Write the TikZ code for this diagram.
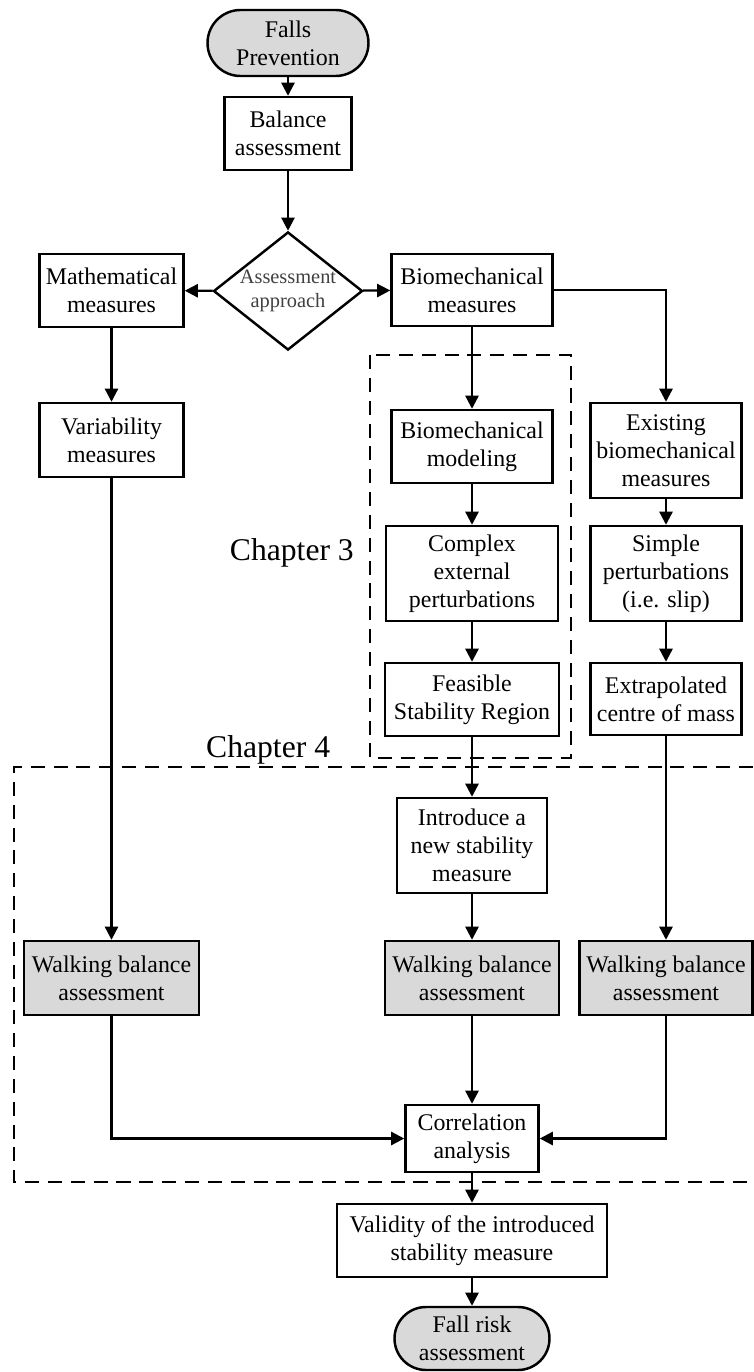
\documentclass[tikz,border=0pt]{standalone}
\usepackage{fontspec}
\setmainfont{Liberation Serif}
\usepackage{tikz}
\usetikzlibrary{arrows.meta, shapes.geometric}
\definecolor{boxgray}{RGB}{217,217,217}
\tikzset{box/.style={draw, line width=1.4pt, align=center, inner sep=1pt, font=\fontsize{13.6}{15.8}\selectfont}}
\tikzset{shaded/.style={box, fill=boxgray}}
\tikzset{terminal/.style={box, fill=boxgray, rounded corners=#1}}
\tikzset{terminal/.default=0.63cm}
\tikzset{decision/.style={draw, line width=1.4pt, diamond, shape aspect=1.26, inner sep=0pt, align=center, text=black!75, font=\fontsize{11.6}{13.6}\selectfont}}
\tikzset{flow/.style={line width=1.3pt, -{Triangle[width=7.5pt, length=7.5pt]}}}
\tikzset{chapter/.style={line width=1.3pt, dash pattern=on 8pt off 5pt}}
\tikzset{chaptertext/.style={font=\fontsize{18}{20}\selectfont}}

\begin{document}
\begin{tikzpicture}
            \useasboundingbox (0, 0) rectangle (15.06, -27.44);
            \node[terminal=0.66cm, minimum width=3.22cm, minimum height=1.32cm] (prevent) at (5.76, -0.86) {Falls\\Prevention};
            \node[box, minimum width=2.54cm, minimum height=1.46cm] (balance) at (5.76, -2.67) {Balance\\assessment};
            \node[decision, minimum width=2.98cm, minimum height=2.36cm] (approach) at (5.76, -5.82) {Assessment\\approach};
            \node[box, minimum width=2.88cm, minimum height=1.46cm] (math) at (2.23, -5.81) {Mathematical\\measures};
            \node[box, minimum width=3.22cm, minimum height=1.44cm] (biomech) at (9.44, -5.80) {Biomechanical\\measures};
            \node[box, minimum width=2.88cm, minimum height=1.48cm] (variab) at (2.23, -8.80) {Variability\\measures};
            \node[box, minimum width=3.22cm, minimum height=1.46cm] (model) at (9.44, -8.93) {Biomechanical\\modeling};
            \node[box, minimum width=3.02cm, minimum height=1.90cm] (existing) at (13.32, -9.01) {Existing\\biomechanical\\measures};
            \node[box, minimum width=3.44cm, minimum height=1.90cm] (complex) at (9.44, -11.47) {Complex\\external\\perturbations};
            \node[box, minimum width=3.02cm, minimum height=1.90cm] (simple) at (13.32, -11.47) {Simple\\perturbations\\(i.e. slip)};
            \node[box, minimum width=3.48cm, minimum height=1.46cm] (feasible) at (9.44, -13.99) {Feasible\\Stability Region};
            \node[box, minimum width=3.02cm, minimum height=1.44cm] (xcom) at (13.32, -13.98) {Extrapolated\\centre of mass};
            \node[box, minimum width=3.00cm, minimum height=1.90cm] (newmeas) at (9.44, -16.91) {Introduce a\\new stability\\measure};
            \node[shaded, minimum width=3.50cm, minimum height=1.48cm] (walkleft) at (2.23, -19.56) {Walking balance\\assessment};
            \node[shaded, minimum width=3.48cm, minimum height=1.48cm] (walkmid) at (9.44, -19.56) {Walking balance\\assessment};
            \node[shaded, minimum width=3.46cm, minimum height=1.48cm] (walkright) at (13.32, -19.56) {Walking balance\\assessment};
            \node[box, minimum width=2.66cm, minimum height=1.34cm] (corr) at (9.44, -22.77) {Correlation\\analysis};
            \node[box, minimum width=5.40cm, minimum height=1.46cm] (valid) at (9.44, -24.81) {Validity of the introduced\\stability measure};
            \node[terminal, minimum width=3.10cm, minimum height=1.26cm] (risk) at (9.44, -26.77) {Fall risk\\assessment};
            \draw[chapter] (7.40, -7.10) rectangle (11.42, -15.16);
            \draw[chapter] (15.06, -15.34) -- (0.28, -15.34) -- (0.28, -23.64) -- (15.06, -23.64);
            \node[chaptertext, anchor=base east] (chapthree) at (7.20, -11.20) {Chapter 3};
            \node[chaptertext, anchor=base west] (chapfour) at (4.00, -15.14) {Chapter 4};
            \draw[flow] (prevent) -- (balance);
            \draw[flow] (balance) -- (approach);
            \draw[flow] (approach) -- (math);
            \draw[flow] (approach) -- (biomech);
            \draw[flow] (math) -- (variab);
            \draw[flow] (variab) -- (walkleft);
            \draw[flow] (biomech) -- (model);
            \draw[flow] (biomech.east) -| (existing.north);
            \foreach \from/\to in {model/complex, complex/feasible, feasible/newmeas, newmeas/walkmid, walkmid/corr, existing/simple, simple/xcom, xcom/walkright, corr/valid, valid/risk} {
                \draw[flow] (\from) -- (\to);
            }
            \draw[flow] (walkleft.south) |- (corr.west);
            \draw[flow] (walkright.south) |- (corr.east);
        \end{tikzpicture}
\end{document}
